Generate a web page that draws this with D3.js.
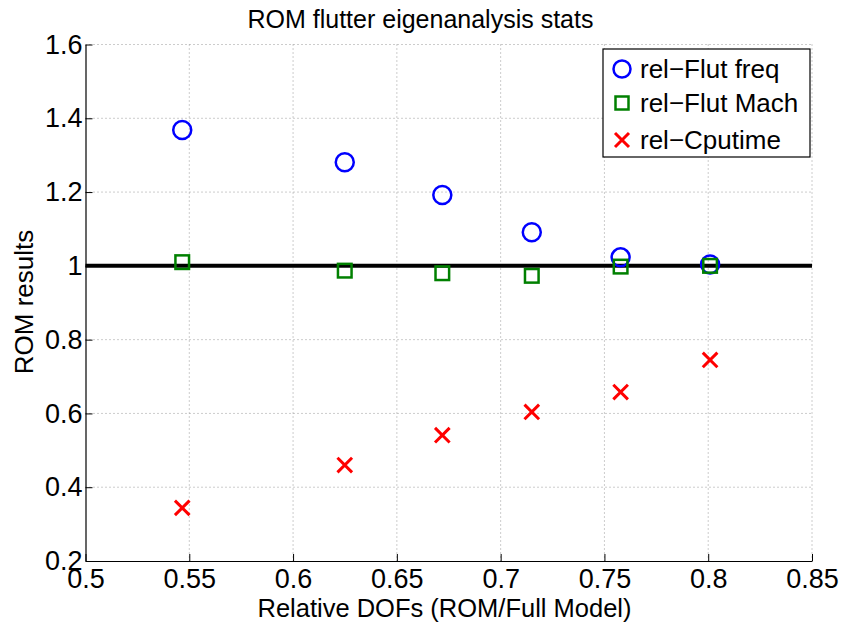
<!DOCTYPE html>
<html><head><meta charset="utf-8">
<script src="https://cdn.jsdelivr.net/npm/d3@7"></script>
<style>body{margin:0;background:#fff}svg{display:block}text{font-family:"Liberation Sans",Arial,sans-serif}</style>
</head><body>
<svg id="c" width="841" height="622"></svg>
<script>
const dofs = [0.5466, 0.6249, 0.6719, 0.7150, 0.7578, 0.8009];
const flutFreq = [1.368, 1.281, 1.192, 1.091, 1.023, 1.004];
const flutMach = [1.010, 0.987, 0.980, 0.973, 0.998, 1.000];
const cpuTime = [0.344, 0.460, 0.541, 0.604, 0.658, 0.745];
const xTicks = [0.5, 0.55, 0.6, 0.65, 0.7, 0.75, 0.8, 0.85];
const yTicks = [0.2, 0.4, 0.6, 0.8, 1, 1.2, 1.4, 1.6];
const seriesNames = ["rel\u2212Flut freq", "rel\u2212Flut Mach", "rel\u2212Cputime"];

const svg = d3.select("#c");
const L = 85.5, R = 812, T = 44.5, B = 561;
const x = d3.scaleLinear().domain([0.5, 0.85]).range([L, R]);
const y = d3.scaleLinear().domain([0.2, 1.6]).range([B, T]);
const fmt = d => String(d);

// grid
const g = svg.append("g");
g.selectAll(".gx").data(xTicks.slice(1)).join("line")
  .attr("x1", d => x(d)).attr("x2", d => x(d)).attr("y1", T).attr("y2", B)
  .attr("stroke", "#999").attr("stroke-width", 1).attr("stroke-dasharray", "1,3");
g.selectAll(".gy").data(yTicks.slice(1)).join("line")
  .attr("y1", d => y(d)).attr("y2", d => y(d)).attr("x1", L).attr("x2", R)
  .attr("stroke", "#999").attr("stroke-width", 1).attr("stroke-dasharray", "1,3");

// axes
const xAx = svg.append("g").attr("transform", `translate(0,${B})`)
  .call(d3.axisBottom(x).tickValues(xTicks).tickFormat(fmt).tickSizeInner(-7).tickSizeOuter(0).tickPadding(8));
const yAx = svg.append("g").attr("transform", `translate(${L},0)`)
  .call(d3.axisLeft(y).tickValues(yTicks).tickFormat(fmt).tickSizeInner(-7).tickSizeOuter(0).tickPadding(3));
[xAx, yAx].forEach(a => {
  a.select(".domain").attr("stroke", "#000").attr("stroke-width", 1.2);
  a.selectAll(".tick line").attr("stroke", "#000");
  a.selectAll("text").attr("font-size", 27).attr("fill", "#000")
    .attr("font-family", "'Liberation Sans', Arial, sans-serif");
});

// reference line at 1
svg.append("line").attr("x1", L).attr("x2", R).attr("y1", y(1)).attr("y2", y(1))
  .attr("stroke", "#000").attr("stroke-width", 4);

// markers
const mk = svg.append("g");
mk.selectAll(".c").data(dofs.map((d, i) => [d, flutFreq[i]])).join("circle")
  .attr("cx", d => x(d[0])).attr("cy", d => y(d[1])).attr("r", 9)
  .attr("fill", "none").attr("stroke", "#0000ff").attr("stroke-width", 2.5);
mk.selectAll(".s").data(dofs.map((d, i) => [d, flutMach[i]])).join("rect")
  .attr("x", d => x(d[0]) - 6.8).attr("y", d => y(d[1]) - 6.8).attr("width", 13.6).attr("height", 13.6)
  .attr("fill", "none").attr("stroke", "#008000").attr("stroke-width", 2.5);
const cross = (sel, s) => sel.append("path")
  .attr("d", `M${-s},${-s}L${s},${s}M${-s},${s}L${s},${-s}`)
  .attr("stroke", "#ff0000").attr("stroke-width", 3).attr("fill", "none");
dofs.forEach((d, i) => {
  const gg = mk.append("g").attr("transform", `translate(${x(d)},${y(cpuTime[i])})`);
  cross(gg, 7.3);
});

// title and labels
svg.append("text").attr("x", 420.5).attr("y", 28).attr("text-anchor", "middle")
  .attr("font-size", 25).text("ROM flutter eigenanalysis stats");
svg.append("text").attr("x", 444.5).attr("y", 616.5).attr("text-anchor", "middle")
  .attr("font-size", 25.5).text("Relative DOFs (ROM/Full Model)");
svg.append("text").attr("transform", `translate(33,302)rotate(-90)`).attr("text-anchor", "middle")
  .attr("font-size", 26).text("ROM results");

// legend
const lg = svg.append("g");
lg.append("rect").attr("x", 603).attr("y", 49).attr("width", 207).attr("height", 108)
  .attr("fill", "#fff").attr("stroke", "#000").attr("stroke-width", 1.2);
const ly = [69, 103, 140];
lg.append("circle").attr("cx", 622).attr("cy", ly[0]).attr("r", 8.5)
  .attr("fill", "none").attr("stroke", "#0000ff").attr("stroke-width", 2.5);
lg.append("rect").attr("x", 615.5).attr("y", ly[1] - 6.5).attr("width", 13).attr("height", 13)
  .attr("fill", "none").attr("stroke", "#008000").attr("stroke-width", 2.5);
cross(lg.append("g").attr("transform", `translate(622,${ly[2]})`), 7);
lg.selectAll(".lt").data(seriesNames).join("text")
  .attr("x", 640).attr("y", (d, i) => ly[i] + 9).attr("font-size", 26).text(d => d);
</script>
</body></html>
